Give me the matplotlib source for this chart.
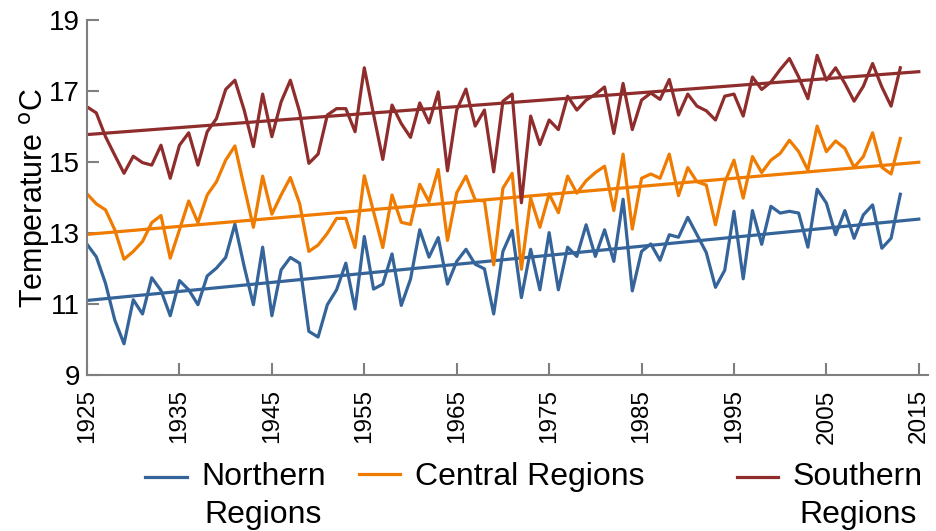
import numpy as np
import matplotlib
matplotlib.use("Agg")
import matplotlib.pyplot as plt
from matplotlib.legend_handler import HandlerLine2D

plt.rcParams["font.family"] = ["Liberation Sans", "DejaVu Sans"]

years = np.arange(1925, 2014)

northern = [
    12.69, 12.34, 11.59, 10.56, 9.89, 11.13, 10.73, 11.75, 11.39, 10.68,
    11.67, 11.41, 10.99, 11.80, 12.02, 12.32, 13.26, 12.07, 10.99, 12.61,
    10.68, 11.97, 12.32, 12.16, 10.24, 10.08, 10.99, 11.41, 12.16, 10.87,
    12.91, 11.43, 11.57, 12.42, 10.97, 11.71, 13.10, 12.33, 12.88, 11.57,
    12.21, 12.55, 12.13, 12.00, 10.73, 12.49, 13.08, 11.19, 12.55, 11.41,
    13.02, 11.41, 12.61, 12.35, 13.24, 12.35, 13.10, 12.21, 13.96, 11.38,
    12.49, 12.70, 12.24, 12.96, 12.89, 13.45, 12.96, 12.46, 11.48, 11.96,
    13.62, 11.72, 13.64, 12.69, 13.76, 13.57, 13.62, 13.57, 12.61, 14.24,
    13.85, 12.96, 13.64, 12.86, 13.52, 13.80, 12.58, 12.86, 14.10,
]

central = [
    14.11, 13.83, 13.66, 13.10, 12.27, 12.49, 12.77, 13.30, 13.50, 12.30,
    13.10, 13.91, 13.30, 14.08, 14.45, 15.06, 15.46, 14.31, 13.17, 14.61,
    13.54, 14.08, 14.57, 13.84, 12.49, 12.67, 13.00, 13.42, 13.42, 12.60,
    14.62, 13.61, 12.60, 14.08, 13.31, 13.25, 14.38, 13.89, 14.80, 12.80,
    14.14, 14.61, 13.94, 13.91, 12.11, 14.27, 14.69, 11.99, 13.99, 13.17,
    14.11, 13.58, 14.61, 14.13, 14.48, 14.71, 14.89, 13.64, 15.23, 13.12,
    14.55, 14.67, 14.55, 15.23, 14.06, 14.85, 14.45, 14.36, 13.24, 14.43,
    15.06, 13.99, 15.16, 14.71, 15.06, 15.25, 15.62, 15.30, 14.78, 16.02,
    15.30, 15.60, 15.39, 14.86, 15.16, 15.83, 14.86, 14.67, 15.67,
]

southern = [
    16.56, 16.39, 15.72, 15.20, 14.69, 15.17, 14.99, 14.92, 15.48, 14.55,
    15.48, 15.83, 14.92, 15.86, 16.23, 17.05, 17.31, 16.47, 15.44, 16.92,
    15.72, 16.70, 17.31, 16.42, 14.97, 15.23, 16.33, 16.51, 16.51, 15.86,
    17.66, 16.35, 15.08, 16.61, 16.09, 15.70, 16.67, 16.11, 16.98, 14.76,
    16.47, 17.06, 16.02, 16.47, 14.73, 16.72, 16.92, 13.86, 16.30, 15.50,
    16.19, 15.92, 16.86, 16.47, 16.75, 16.91, 17.12, 15.81, 17.22, 15.92,
    16.75, 16.95, 16.77, 17.33, 16.33, 16.92, 16.58, 16.45, 16.19, 16.86,
    16.92, 16.30, 17.40, 17.05, 17.26, 17.61, 17.92, 17.40, 16.79, 18.01,
    17.31, 17.66, 17.22, 16.72, 17.14, 17.78, 17.12, 16.58, 17.66,
]

# linear trend values at 1925 and 2015
trend_years = [1925, 2015]
northern_trend = [11.11, 13.40]
central_trend = [12.97, 15.00]
southern_trend = [15.78, 17.55]

labels = ["Northern\nRegions", "Central Regions", "Southern\nRegions"]
colors = ["#35649a", "#ef7b00", "#8f2d2d"]
series = [northern, central, southern]
trends = [northern_trend, central_trend, southern_trend]


class FirstLineHandler(HandlerLine2D):
    """Put the legend line level with the first line of a wrapped label."""

    def __init__(self, shift, **kw):
        super().__init__(**kw)
        self.shift = shift

    def create_artists(self, legend, orig_handle, xdescent, ydescent,
                       width, height, fontsize, trans):
        arts = super().create_artists(legend, orig_handle, xdescent, ydescent,
                                      width, height, fontsize, trans)
        for a in arts:
            a.set_ydata(np.asarray(a.get_ydata()) + self.shift)
        return arts


fig = plt.figure(figsize=(9.36, 5.31), dpi=100)
ax = fig.add_axes([0.093, 0.293, 0.8985, 0.669])

handles = []
for vals, tr, color in zip(series, trends, colors):
    (ln,) = ax.plot(years, vals, color=color, lw=2.3)
    ax.plot(trend_years, tr, color=color, lw=2.3)
    handles.append(ln)

ax.set_xlim(1925, 2016)
ax.set_ylim(9, 19)
ax.set_xticks(np.arange(1925, 2016, 10))
ax.set_yticks(np.arange(9, 20, 2))
ax.tick_params(axis="both", direction="in", length=8.5, width=1.5,
               color="#7f7f7f")
ax.tick_params(axis="y", labelsize=20, pad=5)
ax.tick_params(axis="x", labelsize=17.5, labelrotation=90, pad=10)
for side in ["top", "right"]:
    ax.spines[side].set_visible(False)
for side in ["left", "bottom"]:
    ax.spines[side].set_color("#7f7f7f")
    ax.spines[side].set_linewidth(1.5)

ax.set_ylabel("Temperature $^{\\mathrm{o}}$C", fontsize=22, labelpad=-2)

# one legend per entry so each sits where the reference has it
leg_x = [0.155, 0.3835, 0.787]
for h, lab, lx in zip(handles, labels, leg_x):
    n_lines = lab.count("\n") + 1
    shift = 13.5 if n_lines > 1 else 0
    leg = fig.legend([h], [lab], loc="upper left", bbox_to_anchor=(lx, 0.130),
                     frameon=False, fontsize=23, borderpad=0, borderaxespad=0,
                     handlelength=1.3, handletextpad=0.45,
                     handler_map={h: FirstLineHandler(shift)})
    for t in leg.get_texts():
        t.set_multialignment("center")
        t.set_linespacing(1.34)

fig.savefig("out.png", dpi=100)
